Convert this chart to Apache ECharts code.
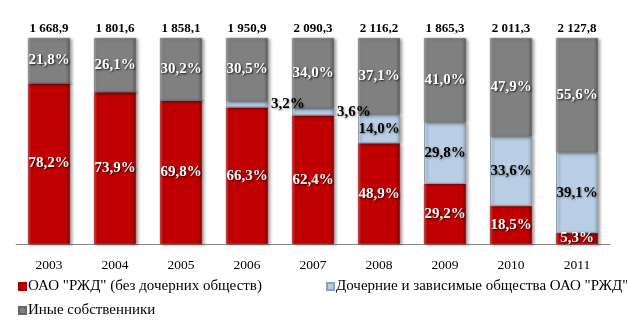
<!DOCTYPE html>
<html><head><meta charset="utf-8">
<script src="https://cdn.jsdelivr.net/npm/echarts@6/dist/echarts.min.js"></script>
<style>html,body{margin:0;padding:0;background:#fff}#c{width:627px;height:325px}</style>
</head><body><div id="c"></div>
<script>
var categories = ['2003','2004','2005','2006','2007','2008','2009','2010','2011'];
var totals = ['1 668,9','1 801,6','1 858,1','1 950,9','2 090,3','2 116,2','1 865,3','2 011,3','2 127,8'];
var rzd = [78.2, 73.9, 69.8, 66.3, 62.4, 48.9, 29.2, 18.5, 5.3];
var subs = [0, 0, 0, 3.2, 3.6, 14.0, 29.8, 33.6, 39.1];
var others = [21.8, 26.1, 30.2, 30.5, 34.0, 37.1, 41.0, 47.9, 55.6];
var seriesNames = ['ОАО "РЖД" (без дочерних обществ)', 'Дочерние и зависимые общества ОАО "РЖД"', 'Иные собственники'];

var serif = '"Liberation Serif","Times New Roman",serif';
function fmt(p){ return p.value ? p.value.toFixed(1).replace('.', ',') + '%' : ''; }
function grad(light, mid, dark){
  return {type:'linear',x:0,y:0,x2:1,y2:0,colorStops:[
    {offset:0,color:light},{offset:0.08,color:mid},{offset:0.9,color:mid},{offset:1,color:dark}]};
}
var baseItem = {shadowColor:'rgba(0,0,0,0.35)',shadowBlur:3,shadowOffsetX:2,shadowOffsetY:1};
var whiteLabel = {show:true,position:'inside',color:'#fff',fontFamily:serif,fontWeight:'bold',fontSize:15,
  textShadowColor:'rgba(0,0,0,0.8)',textShadowBlur:2,textShadowOffsetX:1,textShadowOffsetY:1,formatter:fmt};
var legendText = {fontFamily:serif,fontSize:15,color:'#000',padding:[0,0,0,-3]};

var subData = subs.map(function(v){
  if (v > 0 && v < 5) return {value:v,label:{position:'right',distance:3}};
  return v;
});

var chart = echarts.init(document.getElementById('c'));
chart.setOption({
  animation:false,
  grid:{left:16,right:17,top:38,bottom:81},
  xAxis:[{type:'category',data:categories,axisLine:{lineStyle:{color:'#868686'}},axisTick:{show:false},
    axisLabel:{color:'#000',fontFamily:serif,fontSize:13.5,margin:14}},
    {type:'category',position:'top',data:totals,axisLine:{show:false},axisTick:{show:false},
    axisLabel:{color:'#000',fontFamily:serif,fontSize:13,fontWeight:'bold',margin:3}}],
  yAxis:{type:'value',min:0,max:100,show:false},
  legend:[
    {data:[seriesNames[0]],left:13,top:274,icon:'rect',itemWidth:7,itemHeight:7,textStyle:legendText},
    {data:[seriesNames[1]],left:321,top:274,icon:'rect',itemWidth:7,itemHeight:7,textStyle:legendText},
    {data:[seriesNames[2]],left:13,top:298,icon:'rect',itemWidth:7,itemHeight:7,textStyle:legendText}
  ],
  series:[
    {name:seriesNames[0],type:'bar',stack:'s',data:rzd,barWidth:42,
      itemStyle:Object.assign({color:grad('#d84040','#c00000','#800000'),borderColor:'#a00000',borderWidth:0.5},baseItem),
      label:whiteLabel},
    {name:seriesNames[1],type:'bar',stack:'s',data:subData,barWidth:42,
      itemStyle:Object.assign({color:grad('#dbe6f3','#b9cde5','#8fa3bb'),borderColor:'#8ea0b5',borderWidth:1},baseItem),
      label:{show:true,position:'inside',color:'#000',fontFamily:serif,fontWeight:'bold',fontSize:15,
        textShadowColor:'rgba(0,0,0,0.35)',textShadowBlur:2,textShadowOffsetX:1,textShadowOffsetY:1,formatter:fmt}},
    {name:seriesNames[2],type:'bar',stack:'s',data:others,barWidth:42,
      itemStyle:Object.assign({color:grad('#a0a0a0','#808080','#5a5a5a'),borderColor:'#666',borderWidth:0.5},baseItem),
      label:whiteLabel}
  ]
});
</script></body></html>
